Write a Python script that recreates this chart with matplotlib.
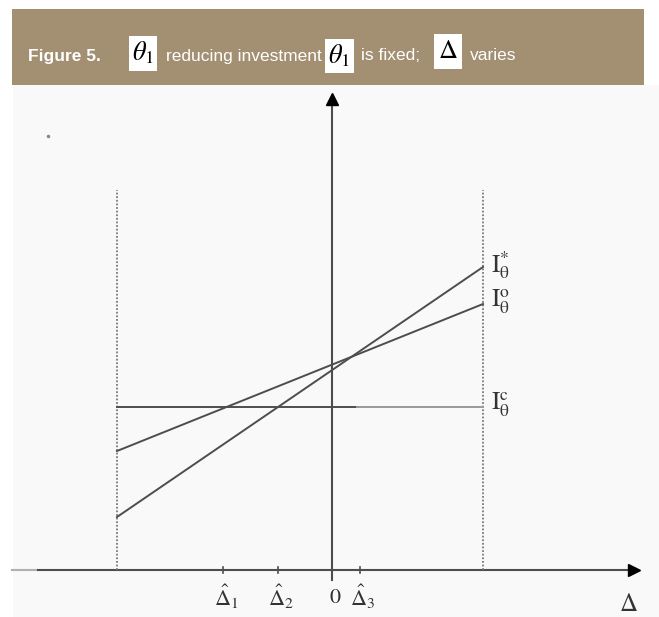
import matplotlib
matplotlib.use("Agg")
import matplotlib.pyplot as plt
from matplotlib.patches import Rectangle

plt.rcParams["mathtext.fontset"] = "stix"

# positions along the delta axis (0 = vertical axis)
delta_bounds = [-215, 151]
delta_ticks = [-109, -54, 0, 28]
delta_labels = [r"$\hat{\Delta}_1$", r"$\hat{\Delta}_2$", r"$0$", r"$\hat{\Delta}_3$"]

# investment levels at the two bounds
i_star = [53, 303]
i_circ = [119, 266]
i_c = [163, 163]
bound_top = 380
line_names = [r"$\mathrm{I}_{\mathrm{θ}}^{*}$", r"$\mathrm{I}_{\mathrm{θ}}^{\mathrm{o}}$",
              r"$\mathrm{I}_{\mathrm{θ}}^{\mathrm{c}}$"]

W, H = 659, 617
BANNER = "#a38f71"
INK = "#4d4d4d"


def fx(px):
    return px / W


def fy(py):
    return 1 - py / H


fig = plt.figure(figsize=(W / 100, H / 100), dpi=100)
fig.patch.set_facecolor("white")

# off-white chart area + banner
fig.patches.append(Rectangle((fx(13), 0), 1 - fx(13), fy(85), transform=fig.transFigure,
                             facecolor="#f9f9f9", edgecolor="none", zorder=0))
fig.patches.append(Rectangle((fx(12), fy(85)), fx(644) - fx(12), fy(9) - fy(85),
                             transform=fig.transFigure, facecolor=BANNER, edgecolor="none", zorder=0))

txt_kw = dict(color="white", va="center", fontsize=12.5,
              family=["Liberation Sans Narrow", "Liberation Sans", "DejaVu Sans"])
fig.text(fx(28), fy(56), "Figure 5.", weight="bold", **txt_kw)
fig.text(fx(166), fy(56), "reducing investment", **txt_kw)
fig.text(fx(361), fy(56), "is fixed;", **txt_kw)
fig.text(fx(470), fy(56), "varies", **txt_kw)

# white boxes with symbols
boxes = [(129, 157, 36, 71, r"$\theta_1$"), (325, 354, 39, 73, r"$\theta_1$"),
         (434, 462, 34, 69, r"$\Delta$")]
for x0, x1, y0, y1, sym in boxes:
    fig.patches.append(Rectangle((fx(x0), fy(y1)), fx(x1) - fx(x0), fy(y0) - fy(y1),
                                 transform=fig.transFigure, facecolor="white",
                                 edgecolor="none", zorder=1))
    fig.text(fx((x0 + x1) / 2), fy((y0 + y1) / 2), sym, color="black", fontsize=19,
             ha="center", va="center", zorder=2)

ax = fig.add_axes([0, 0, 1, 1])
ax.set_zorder(3)
ax.set_xlim(-332, W - 332)
ax.set_ylim(570 - H, 570)
ax.axis("off")
ax.patch.set_alpha(0)

# axes with arrows
ax.plot([-320, -294], [0, 0], color="#b0b0b0", lw=1.5)
ax.plot([-294, 298], [0, 0], color=INK, lw=1.5)
ax.plot([302], [0], marker=">", color="black", ms=8, clip_on=False)
ax.plot([0, 0], [-10, 468], color=INK, lw=1.5)
ax.plot([0], [471], marker="^", color="black", ms=8, clip_on=False)

# dotted bounds
for b in delta_bounds:
    ax.plot([b, b], [0, bound_top], color="#7a7a7a", lw=1.3, ls=(0, (1, 1)))

# the three investment lines
ax.plot(delta_bounds, i_star, color=INK, lw=1.4)
ax.plot(delta_bounds, i_circ, color=INK, lw=1.4)
ax.plot([delta_bounds[0], 25], i_c, color=INK, lw=1.4)
ax.plot([25, delta_bounds[1]], i_c, color="#9a9a9a", lw=1.4)

for name, y in zip(line_names, [i_star[1], i_circ[1], i_c[1]]):
    ax.text(delta_bounds[1] + 8, y + 2, name, fontsize=18, color="#333333",
            ha="left", va="center")

# tick marks and labels
for t, lab in zip(delta_ticks, delta_labels):
    if t != 0:
        ax.plot([t, t], [-3, 3], color=INK, lw=1.2)
    ax.text(t + 3, -27, lab, fontsize=16, color="#333333", ha="center", va="center")
ax.text(296, -34, r"$\Delta$", fontsize=18, color="#333333", ha="center", va="center")

# small speck in the scan
ax.plot([48 - 332], [570 - 136], marker="o", ms=1.5, color="#888888")

fig.savefig("out.png", dpi=100)
